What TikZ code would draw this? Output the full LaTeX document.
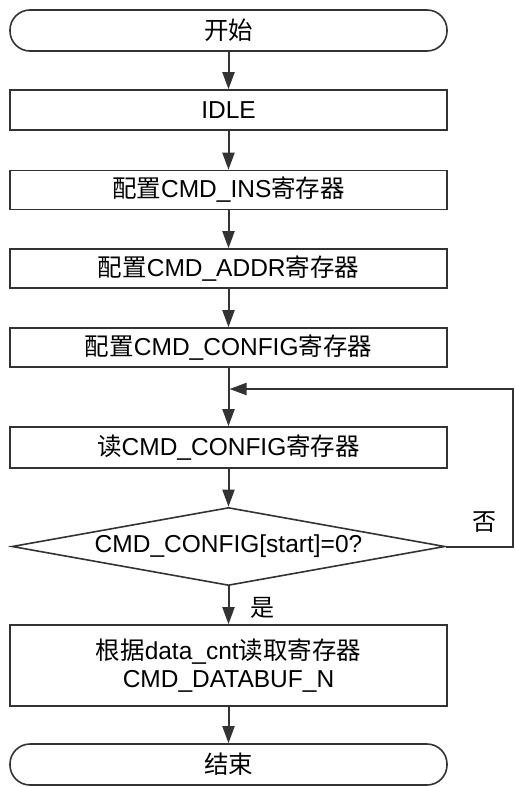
\documentclass[tikz,border=0pt]{standalone}
\usepackage{fontspec}
\setmainfont{Liberation Sans}
\newfontfamily\cjk{Noto Sans CJK SC}
\usetikzlibrary{shapes.geometric,arrows.meta}
\tikzset{
  base/.style={draw=black!80, line width=1.6pt, font=\fontsize{24.5}{28}\selectfont, inner sep=0pt, text=black},
  term/.style={base, minimum width=437pt, minimum height=41pt, rounded corners=20pt},
  proc/.style={base, minimum width=437pt, minimum height=40pt},
  decide/.style={base, diamond, minimum width=433pt, minimum height=78pt, aspect=5.5},
  arr/.style={draw=black!80, line width=2pt, -{Triangle[length=17pt,width=12pt]}},
  lbl/.style={font=\fontsize{24}{28}\selectfont\cjk, inner sep=0pt}
}
\begin{document}
\begin{tikzpicture}[x=1pt,y=-1pt]
\useasboundingbox (0,0) rectangle (514,787);
\node[term] (start) at (228.5,30.5) {{\cjk 开始}};
\node[proc] (idle) at (228.5,110) {IDLE};
\node[proc, minimum height=39pt] (ins) at (228.5,190) {{\cjk 配置}CMD\_INS{\cjk 寄存器}};
\node[proc, minimum height=39pt] (addr) at (228.5,268.5) {{\cjk 配置}CMD\_ADDR{\cjk 寄存器}};
\node[proc, minimum height=39pt] (cfg) at (228.5,347.5) {{\cjk 配置}CMD\_CONFIG{\cjk 寄存器}};
\node[proc, minimum height=41pt] (read) at (228.5,447.5) {{\cjk 读}CMD\_CONFIG{\cjk 寄存器}};
\node[decide] (dec) at (228.5,546.5) {CMD\_CONFIG[start]=0?};
\node[proc, minimum height=81pt, align=center] (final) at (228.5,665.5) {{\cjk 根据}data\_cnt{\cjk 读取寄存器}\\[0pt]CMD\_DATABUF\_N};
\node[term] (end) at (228.5,764.5) {{\cjk 结束}};
\coordinate (loopin) at (229.5,389);
\coordinate (loopr) at (513,389);
\draw[arr] (start) -- (idle);
\draw[arr] (idle) -- (ins);
\draw[arr] (ins) -- (addr);
\draw[arr] (addr) -- (cfg);
\draw[arr] (cfg) -- (read);
\draw[arr] (read) -- (dec);
\draw[arr] (dec) -- (final);
\draw[arr] (final) -- (end);
\draw[arr] (dec.east) -| (loopr) -- (loopin);
\node[lbl] (no) at (484,522) {否};
\node[lbl] (yes) at (262,608) {是};
\end{tikzpicture}
\end{document}
